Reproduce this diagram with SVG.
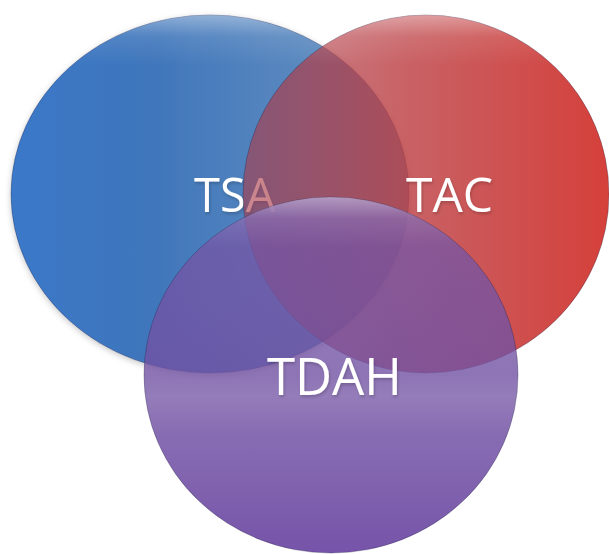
<svg xmlns="http://www.w3.org/2000/svg" width="609" height="554" viewBox="0 0 609 554">
  <defs>
    <linearGradient id="gBlue" x1="0" y1="0" x2="1" y2="0">
      <stop offset="0" stop-color="#3a78c8"/>
      <stop offset="0.35" stop-color="#3f76bb"/>
      <stop offset="0.75" stop-color="#5b89bf"/>
      <stop offset="1" stop-color="#7098c2"/>
    </linearGradient>
    <linearGradient id="gRed" x1="0" y1="0" x2="1" y2="0">
      <stop offset="0" stop-color="#a83a48" stop-opacity="0.6"/>
      <stop offset="0.45" stop-color="#bb3a3e" stop-opacity="0.8"/>
      <stop offset="1" stop-color="#d43a34" stop-opacity="0.97"/>
    </linearGradient>
    <linearGradient id="gPurple" x1="0" y1="0" x2="0" y2="1">
      <stop offset="0" stop-color="#7656a6" stop-opacity="0.74"/>
      <stop offset="0.55" stop-color="#7050a2" stop-opacity="0.8"/>
      <stop offset="1" stop-color="#6a45a2" stop-opacity="0.92"/>
    </linearGradient>
    <linearGradient id="gGloss" x1="0" y1="0" x2="0" y2="1">
      <stop offset="0" stop-color="#ffffff" stop-opacity="0.4"/>
      <stop offset="0.06" stop-color="#ffffff" stop-opacity="0.1"/>
      <stop offset="0.14" stop-color="#ffffff" stop-opacity="0"/>
      <stop offset="1" stop-color="#ffffff" stop-opacity="0"/>
    </linearGradient>
    <linearGradient id="gBand" x1="0" y1="0" x2="0" y2="1">
      <stop offset="0" stop-color="#ffffff" stop-opacity="0"/>
      <stop offset="0.5" stop-color="#ffffff" stop-opacity="0"/>
      <stop offset="0.56" stop-color="#ffffff" stop-opacity="0.07"/>
      <stop offset="0.66" stop-color="#ffffff" stop-opacity="0.01"/>
      <stop offset="1" stop-color="#ffffff" stop-opacity="0"/>
    </linearGradient>
    <filter id="shadow" x="-10%" y="-10%" width="120%" height="120%">
      <feDropShadow dx="0" dy="2" stdDeviation="3" flood-color="#000" flood-opacity="0.22"/>
    </filter>
    <filter id="tshadow" x="-10%" y="-10%" width="120%" height="130%">
      <feDropShadow dx="1" dy="2" stdDeviation="1.5" flood-color="#000" flood-opacity="0.2"/>
    </filter>
  </defs>
  <style>
    .rim { stroke: #1a1a40; stroke-opacity: 0.3; stroke-width: 1; }
    .label { font-family: "Open Sans", "DejaVu Sans", sans-serif; fill: #ffffff; filter: url(#tshadow); }
  </style>

  <g id="node-tsa">
    <ellipse cx="210" cy="194" rx="199" ry="179" fill="url(#gBlue)" class="rim" filter="url(#shadow)"/>
    <ellipse cx="210" cy="194" rx="199" ry="179" fill="url(#gGloss)"/>
    <text class="label" x="194" y="212" font-size="47">TSA</text>
  </g>

  <g id="node-tac">
    <ellipse cx="426" cy="194" rx="183" ry="179" fill="url(#gRed)" class="rim"/>
    <ellipse cx="426" cy="194" rx="183" ry="179" fill="url(#gGloss)"/>
    <text class="label" x="406" y="212" font-size="48">TAC</text>
  </g>

  <g id="node-tdah">
    <ellipse cx="331" cy="375" rx="187" ry="178" fill="url(#gPurple)" class="rim"/>
    <ellipse cx="331" cy="375" rx="187" ry="178" fill="url(#gGloss)"/>
    <ellipse cx="331" cy="375" rx="187" ry="178" fill="url(#gBand)"/>
    <text class="label" x="267" y="395" font-size="51">TDAH</text>
  </g>
</svg>
